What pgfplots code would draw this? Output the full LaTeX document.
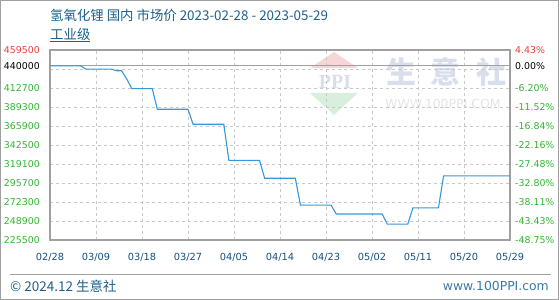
\documentclass[border=0pt]{standalone}
\usepackage{pgfplots}
\pgfplotsset{compat=1.18}
\usepackage{pgfplotstable}
\usepackage{fontspec}
\setmainfont{DejaVu Sans}
\newfontfamily\cjk{Noto Sans CJK SC}
\newfontfamily\wmserif{Liberation Serif}

\definecolor{titleblue}{RGB}{30,95,140}
\definecolor{xlabblue}{RGB}{20,80,130}
\definecolor{urlblue}{RGB}{60,120,165}
\definecolor{tickgreen}{RGB}{50,180,50}
\definecolor{tickred}{RGB}{240,60,60}
\definecolor{framegray}{RGB}{160,160,160}
\definecolor{gridgray}{RGB}{200,200,200}
\definecolor{lineblue}{RGB}{52,152,219}
\definecolor{wmred}{RGB}{246,214,214}
\definecolor{wmgreen}{RGB}{216,239,222}
\definecolor{wmblue}{RGB}{216,222,236}
\definecolor{wmgray}{RGB}{228,228,228}

% Lithium hydroxide (industrial grade), day 0 = 2023-02-28
\pgfplotstableread{
day price
0 440000
6 440000
7 436000
12 436000
13 434000
14 434000
15 424000
16 412000
20 412000
21 386500
27 386500
28 368000
34 368000
35 323500
41 323500
42 301500
48 301500
49 268500
55 268500
56 257500
65 257500
66 245000
70 245000
71 265000
76 265000
77 304500
90 304500
}\lihprice

\pgfplotsset{
  pricebox/.style={
    at={(50pt,60pt)}, anchor=south west,
    width=460pt, height=190pt, scale only axis,
    xmin=0, xmax=90, ymin=225500, ymax=459500,
    scaled y ticks=false,
  },
}

\begin{document}
\begin{tikzpicture}[x=1pt,y=1pt]
\useasboundingbox (0pt,0pt) rectangle (560pt,300pt);
\draw[framegray, line width=1pt] (0.5pt,0.5pt) rectangle (558.5pt,299.5pt);

% watermark logo
\fill[wmred] (310pt,232pt) -- (358pt,232pt) -- (334pt,248pt) -- cycle;
\fill[wmgreen] (310pt,207pt) -- (358pt,207pt) -- (334pt,185pt) -- cycle;
\node[text=wmblue, font=\wmserif\bfseries\fontsize{20}{20}\selectfont, inner sep=0] at (335pt,218pt) {PPI};
\node[text=wmblue, font=\cjk\bfseries\fontsize{30}{30}\selectfont, inner sep=0] at (401pt,228pt) {生};
\node[text=wmblue, font=\cjk\bfseries\fontsize{30}{30}\selectfont, inner sep=0] at (445pt,228pt) {意};
\node[text=wmblue, font=\cjk\bfseries\fontsize{30}{30}\selectfont, inner sep=0] at (491pt,228pt) {社};
\node[text=wmgray, font=\fontsize{12.5}{12.5}\selectfont, inner sep=0, anchor=west] at (385pt,196pt) {WWW.100PPI.COM};

% titles
\node[anchor=west, inner sep=0, text=titleblue, font=\cjk\fontsize{13.4}{15}\selectfont] at (50pt,285pt) {氢氧化锂 国内 市场价 2023-02-28 - 2023-05-29};
\node[anchor=west, inner sep=0, text=titleblue, font=\cjk\fontsize{13.4}{15}\selectfont] at (50pt,265pt) {\underline{工业级}};

\begin{axis}[
  pricebox,
  axis line style={framegray, line width=1.5pt},
  tick style={draw=none},
  xtick={0,9,...,90},
  xticklabels={02/28,03/09,03/18,03/27,04/05,04/14,04/23,05/02,05/11,05/20,05/29},
  ytick={225500,248900,272300,295700,319100,342500,365900,389300,412700,436100},
  yticklabels={225500,248900,272300,295700,319100,342500,365900,389300,412700,{}},
  extra y ticks={440000,459500},
  extra y tick labels={\textcolor{black}{440000},\textcolor{tickred}{459500}},
  extra y tick style={grid=none},
  grid=major,
  major grid style={gridgray, dashed, line width=0.8pt},
  yticklabel style={text=tickgreen, inner sep=0pt, anchor=east, xshift=-10pt, font=\fontsize{9.4}{10}\selectfont},
  xticklabel style={text=xlabblue, inner sep=0pt, anchor=north, yshift=-13pt, font=\fontsize{9.8}{10}\selectfont},
  clip=false,
]
\draw[framegray, line width=1.2pt] (axis cs:0,440000) -- (axis cs:90,440000);
\addplot[lineblue, line width=1.1pt, mark=none] table[x=day, y=price] {\lihprice};
\end{axis}

\begin{axis}[
  pricebox,
  axis x line=none, axis y line*=right,
  axis line style={draw=none},
  tick style={draw=none},
  ytick={225500,248900,272300,295700,319100,342500,365900,389300,412700},
  yticklabels={-48.75\%,-43.43\%,-38.11\%,-32.80\%,-27.48\%,-22.16\%,-16.84\%,-11.52\%,-6.20\%},
  extra y ticks={440000,459500},
  extra y tick labels={\textcolor{black}{0.00\%},\textcolor{tickred}{4.43\%}},
  yticklabel style={text=tickgreen, inner sep=0pt, anchor=west, xshift=5pt, font=\fontsize{9.4}{10}\selectfont},
]
\addplot[draw=none, forget plot] coordinates {(0,440000)};
\end{axis}

% footer
\draw[framegray, line width=1pt] (10pt,25pt) -- (551pt,25pt);
\node[anchor=west, inner sep=0, text=titleblue, font=\cjk\fontsize{13.5}{15}\selectfont] at (10pt,14pt) {© 2024.12 生意社};
\node[anchor=east, inner sep=0, text=urlblue, font=\fontsize{12.4}{14}\selectfont] at (549pt,14pt) {www.100PPI.com};
\end{tikzpicture}
\end{document}
